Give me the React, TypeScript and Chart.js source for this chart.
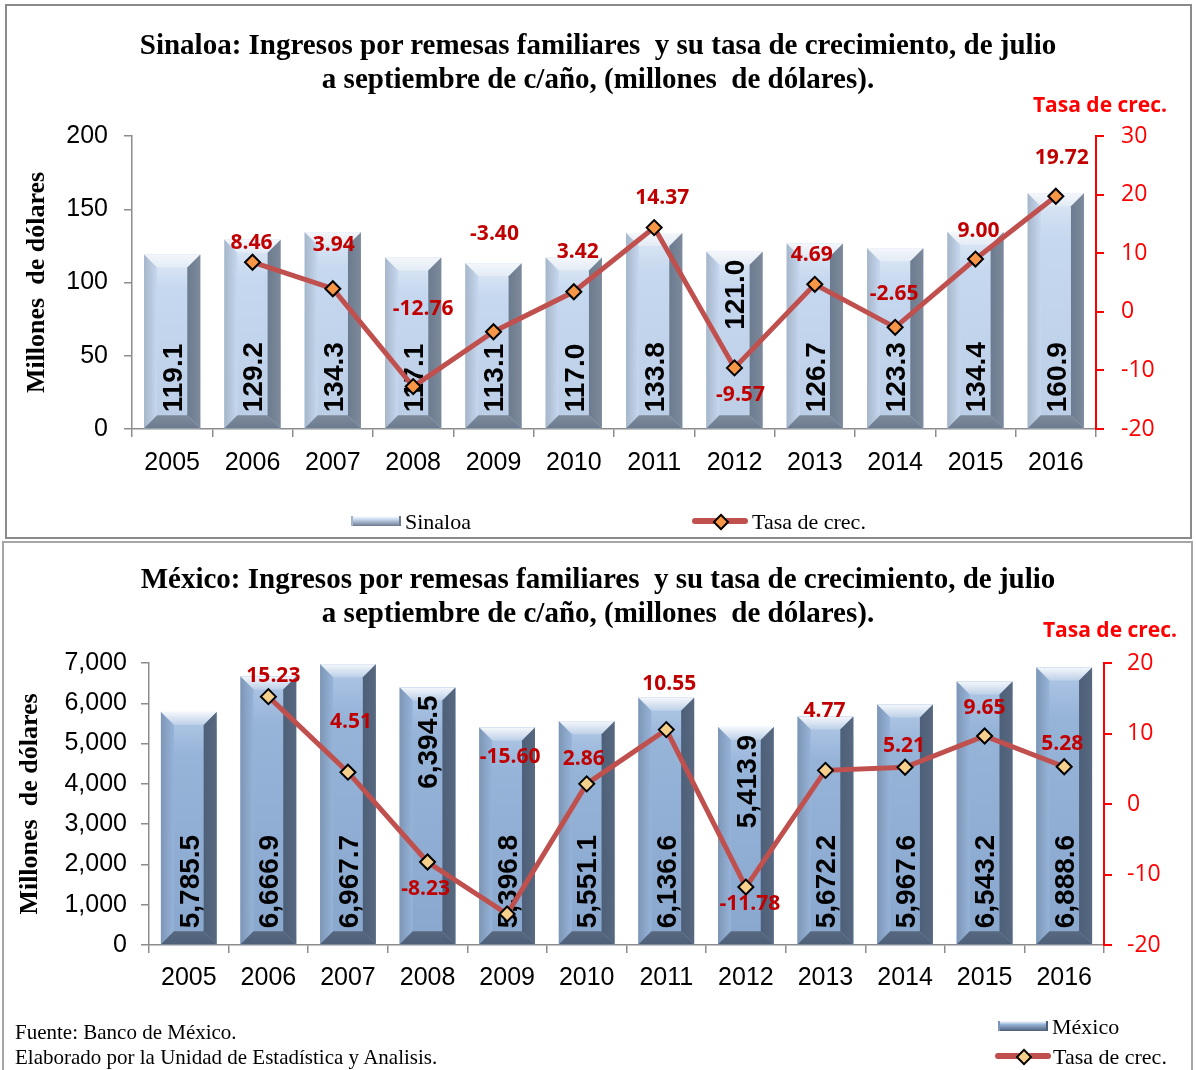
import React, { useEffect, useRef } from 'react';
import { Chart, registerables } from 'chart.js';

Chart.register(...registerables);

// ---------------- data ----------------
const YEARS = ['2005', '2006', '2007', '2008', '2009', '2010', '2011', '2012', '2013', '2014', '2015', '2016'];

const SINALOA_REMESAS = [119.1, 129.2, 134.3, 117.1, 113.1, 117.0, 133.8, 121.0, 126.7, 123.3, 134.4, 160.9];
const SINALOA_TASA = [null, 8.46, 3.94, -12.76, -3.40, 3.42, 14.37, -9.57, 4.69, -2.65, 9.00, 19.72];

const MEXICO_REMESAS = [5785.5, 6666.9, 6967.7, 6394.5, 5396.8, 5551.1, 6136.6, 5413.9, 5672.2, 5967.6, 6543.2, 6888.6];
const MEXICO_TASA = [null, 15.23, 4.51, -8.23, -15.60, 2.86, 10.55, -11.78, 4.77, 5.21, 9.65, 5.28];

const SINALOA_LEFT_TICKS = [0, 50, 100, 150, 200];
const SINALOA_RIGHT_TICKS = [-20, -10, 0, 10, 20, 30];
const MEXICO_LEFT_TICKS = [0, 1000, 2000, 3000, 4000, 5000, 6000, 7000];
const MEXICO_RIGHT_TICKS = [-20, -10, 0, 10, 20];

// bars whose value label sits at the top of the bar
const SINALOA_LABEL_AT_TOP = ['2012'];
const MEXICO_LABEL_AT_TOP = ['2008', '2012'];

// label shifts (pixels) of the growth-rate labels relative to their points
const SINALOA_RATE_SHIFT = [[0, 0], [-1, -19], [1, -44], [10, -78], [1, -98], [4, -40], [8, -30], [6, 27], [-3, -29], [-1, -33], [3, -28], [6, -38]];
const MEXICO_RATE_SHIFT = [[0, 0], [5, -21], [3, -50], [-2, 27], [3, -157], [-3, -25], [3, -46], [4, 17], [-1, -59], [-1, -21], [0, -28], [-2, -23]];

// ---------------- styling ----------------
const SANS = '"Liberation Sans", Arial, sans-serif';
const SERIF = '"Liberation Serif", "Times New Roman", serif';
const CAL = '"Open Sans", "Noto Sans", sans-serif';

const TOP_PALETTE = {
  front: ['#d6e3f3', '#c6d8ef', '#bccfe7'],
  top: '#e3ebf5',
  left: '#a6b6ca',
  right: '#6c7b8f',
  bottom: '#7d8a9b',
};
const BOTTOM_PALETTE = {
  front: ['#aac3e3', '#96b3d8', '#8aa8ce'],
  top: '#bdd0e8',
  left: '#7d96b6',
  right: '#4e6079',
  bottom: '#57687f',
};

function poly(ctx: CanvasRenderingContext2D, pts: number[][], fill: any) {
  ctx.beginPath();
  ctx.moveTo(pts[0][0], pts[0][1]);
  for (let i = 1; i < pts.length; i++) ctx.lineTo(pts[i][0], pts[i][1]);
  ctx.closePath();
  ctx.fillStyle = fill;
  ctx.fill();
}

const bevelBarsPlugin = {
  id: 'bevelBars',
  afterDatasetDraw(chart: any, args: any, opts: any) {
    const meta = args.meta;
    if (meta.type !== 'bar') return;
    const ctx: CanvasRenderingContext2D = chart.ctx;
    const pal = opts.palette;
    const area = chart.chartArea;
    ctx.save();
    ctx.beginPath();
    ctx.rect(area.left, area.top - 2, area.right - area.left, area.bottom - area.top + 2);
    ctx.clip();
    meta.data.forEach((el: any) => {
      const p = el.getProps(['x', 'y', 'base', 'width'], true);
      const L = p.x - p.width / 2;
      const R = p.x + p.width / 2;
      const T = Math.min(p.y, p.base);
      const B = Math.max(p.y, p.base);
      const b = Math.min(opts.bevel, p.width / 4, (B - T) / 2);
      const fg = ctx.createLinearGradient(0, T + b, 0, B - b);
      fg.addColorStop(0, pal.front[0]);
      fg.addColorStop(0.15, pal.front[1]);
      fg.addColorStop(1, pal.front[2]);
      ctx.fillStyle = fg;
      ctx.fillRect(L, T, R - L, B - T);
      const tg = ctx.createLinearGradient(0, T, 0, T + b);
      tg.addColorStop(0, '#f4f7fb');
      tg.addColorStop(1, pal.top);
      poly(ctx, [[L, T], [R, T], [R - b, T + b], [L + b, T + b]], tg);
      const lg = ctx.createLinearGradient(L, 0, L + b, 0);
      lg.addColorStop(0, pal.left);
      lg.addColorStop(1, pal.front[1]);
      poly(ctx, [[L, T], [L + b, T + b], [L + b, B - b], [L, B]], lg);
      const rg = ctx.createLinearGradient(R - b, 0, R, 0);
      rg.addColorStop(0, pal.right);
      rg.addColorStop(1, pal.bottom);
      poly(ctx, [[R, T], [R, B], [R - b, B - b], [R - b, T + b]], rg);
      const bg = ctx.createLinearGradient(0, B - b, 0, B);
      bg.addColorStop(0, pal.bottom);
      bg.addColorStop(1, pal.right);
      poly(ctx, [[L, B], [L + b, B - b], [R - b, B - b], [R, B]], bg);
    });
    ctx.restore();

    // value labels, drawn before the line so markers cover them
    const values = chart.data.datasets[args.index].data;
    const labels = chart.data.labels;
    ctx.save();
    ctx.font = 'bold 28px ' + SANS;
    ctx.fillStyle = '#000';
    ctx.textBaseline = 'middle';
    meta.data.forEach((el: any, i: number) => {
      const p = el.getProps(['x', 'y', 'base'], true);
      const txt = opts.format(values[i]);
      const atTop = opts.atTop.indexOf(labels[i]) >= 0;
      ctx.save();
      if (atTop) {
        ctx.translate(p.x + 2, Math.min(p.y, p.base) + 8);
        ctx.rotate(-Math.PI / 2);
        ctx.textAlign = 'right';
      } else {
        ctx.translate(p.x + 2, Math.max(p.y, p.base) - 16);
        ctx.rotate(-Math.PI / 2);
        ctx.textAlign = 'left';
      }
      ctx.fillText(txt, 0, 0);
      ctx.restore();
    });
    ctx.restore();
  },
};

const rateLabelsPlugin = {
  id: 'rateLabels',
  afterDatasetsDraw(chart: any, _args: any, opts: any) {
    const meta = chart.getDatasetMeta(1);
    const values = chart.data.datasets[1].data;
    const ctx: CanvasRenderingContext2D = chart.ctx;
    ctx.save();
    ctx.font = 'bold 21px ' + CAL;
    ctx.fillStyle = '#c00000';
    ctx.textAlign = 'center';
    ctx.textBaseline = 'middle';
    meta.data.forEach((pt: any, i: number) => {
      const v = values[i];
      if (v === null || v === undefined) return;
      const s = opts.shifts[i] || [0, -20];
      ctx.fillText(Number(v).toFixed(2), pt.x + s[0], pt.y + s[1]);
    });
    ctx.restore();
  },
};

type Cfg = {
  width: number;
  height: number;
  bars: number[];
  rates: (number | null)[];
  barLabel: string;
  leftTicks: number[];
  rightTicks: number[];
  palette: any;
  markerFill: string;
  atTop: string[];
  shifts: number[][];
  barFormat: (v: number) => string;
  leftFormat: (v: number) => string;
  area: { left: number; right: number; top: number; bottom: number };
  leftTickPad: number;
  rightTickPad: number;
  xTickPad: number;
  titlePad: number;
};

function ComboChart({ cfg }: { cfg: Cfg }) {
  const ref = useRef<HTMLCanvasElement | null>(null);
  useEffect(() => {
    if (!ref.current) return;
    const a = cfg.area;
    const xAxisH = 60;
    const chart = new Chart(ref.current, {
      type: 'bar',
      data: {
        labels: YEARS,
        datasets: [
          {
            type: 'bar',
            label: cfg.barLabel,
            data: cfg.bars,
            yAxisID: 'y',
            backgroundColor: cfg.palette.front[1],
            barPercentage: 0.7,
            categoryPercentage: 1,
            order: 2,
          } as any,
          {
            type: 'line',
            label: 'Tasa de crec.',
            data: cfg.rates,
            yAxisID: 'y1',
            borderColor: '#c0504d',
            borderWidth: 5,
            pointStyle: 'rectRot',
            pointRadius: 7.5,
            pointBackgroundColor: cfg.markerFill,
            pointBorderColor: '#000000',
            pointBorderWidth: 2,
            tension: 0,
            spanGaps: false,
            order: 1,
          } as any,
        ],
      },
      options: {
        responsive: false,
        animation: false,
        events: [],
        layout: {
          padding: {
            left: 0,
            right: 0,
            top: a.top,
            bottom: cfg.height - a.bottom - xAxisH,
          },
        },
        plugins: {
          legend: { display: false },
          tooltip: { enabled: false },
          title: { display: false },
          bevelBars: {
            palette: cfg.palette,
            bevel: 13,
            atTop: cfg.atTop,
            format: cfg.barFormat,
          },
          rateLabels: { shifts: cfg.shifts },
        } as any,
        scales: {
          x: {
            offset: true,
            grid: {
              display: true,
              drawOnChartArea: false,
              drawTicks: true,
              tickLength: 8,
              color: '#8c8c8c',
              lineWidth: 1.5,
              offset: true,
            },
            border: { display: true, color: '#8c8c8c', width: 1.5 },
            ticks: {
              color: '#000',
              font: { family: SANS, size: 25 },
              padding: cfg.xTickPad,
              maxRotation: 0,
              autoSkip: false,
            },
            afterFit: (s: any) => {
              s.height = xAxisH;
            },
          },
          y: {
            position: 'left',
            min: cfg.leftTicks[0],
            max: cfg.leftTicks[cfg.leftTicks.length - 1],
            ticks: {
              stepSize: cfg.leftTicks[1] - cfg.leftTicks[0],
              color: '#000',
              font: { family: SANS, size: 25 },
              padding: cfg.leftTickPad,
              callback: (v: any) => cfg.leftFormat(Number(v)),
            },
            grid: {
              drawOnChartArea: false,
              drawTicks: true,
              tickLength: 8,
              color: '#8c8c8c',
              lineWidth: 1.5,
            },
            border: { display: true, color: '#8c8c8c', width: 1.5 },
            title: {
              display: true,
              text: 'Millones  de dólares',
              color: '#000',
              font: { family: SERIF, size: 26, weight: 'bold' },
              padding: { top: cfg.titlePad, bottom: 0 },
            },
            afterFit: (s: any) => {
              s.width = a.left;
            },
          },
          y1: {
            position: 'right',
            min: cfg.rightTicks[0],
            max: cfg.rightTicks[cfg.rightTicks.length - 1],
            ticks: {
              stepSize: cfg.rightTicks[1] - cfg.rightTicks[0],
              color: '#ff0000',
              font: { family: CAL, size: 23 },
              padding: cfg.rightTickPad,
            },
            grid: {
              drawOnChartArea: false,
              drawTicks: true,
              tickLength: 8,
              color: '#ff0000',
              lineWidth: 2,
            },
            border: { display: true, color: '#ff0000', width: 2 },
            afterFit: (s: any) => {
              s.width = cfg.width - a.right;
            },
          },
        } as any,
      },
      plugins: [bevelBarsPlugin as any, rateLabelsPlugin as any],
    });
    return () => chart.destroy();
  }, [cfg]);
  return <canvas ref={ref} width={cfg.width} height={cfg.height} style={{ display: 'block' }} />;
}

const fmt1 = (v: number) => v.toFixed(1);
const fmtComma1 = (v: number) => v.toLocaleString('en-US', { minimumFractionDigits: 1, maximumFractionDigits: 1 });
const fmtInt = (v: number) => String(v);
const fmtCommaInt = (v: number) => v.toLocaleString('en-US');

const TOP_CFG: Cfg = {
  width: 1196,
  height: 538,
  bars: SINALOA_REMESAS,
  rates: SINALOA_TASA,
  barLabel: 'Sinaloa',
  leftTicks: SINALOA_LEFT_TICKS,
  rightTicks: SINALOA_RIGHT_TICKS,
  palette: TOP_PALETTE,
  markerFill: '#f79646',
  atTop: SINALOA_LABEL_AT_TOP,
  shifts: SINALOA_RATE_SHIFT,
  barFormat: fmt1,
  leftFormat: fmtInt,
  area: { left: 132, right: 1096, top: 136, bottom: 429 },
  leftTickPad: 16,
  rightTickPad: 17,
  xTickPad: 11,
  titlePad: 22,
};

const BOTTOM_CFG: Cfg = {
  width: 1196,
  height: 530,
  bars: MEXICO_REMESAS,
  rates: MEXICO_TASA,
  barLabel: 'México',
  leftTicks: MEXICO_LEFT_TICKS,
  rightTicks: MEXICO_RIGHT_TICKS,
  palette: BOTTOM_PALETTE,
  markerFill: '#f5cf8c',
  atTop: MEXICO_LABEL_AT_TOP,
  shifts: MEXICO_RATE_SHIFT,
  barFormat: fmtComma1,
  leftFormat: fmtCommaInt,
  area: { left: 149, right: 1104, top: 123, bottom: 405 },
  leftTickPad: 14,
  rightTickPad: 15,
  xTickPad: 10,
  titlePad: 15,
};

function Txt({ x, y, children, style }: { x: number; y: number; children: any; style?: any }) {
  return (
    <div
      style={{
        position: 'absolute',
        left: x,
        top: y,
        transform: 'translate(0, -50%)',
        whiteSpace: 'pre',
        lineHeight: 1,
        ...style,
      }}
    >
      {children}
    </div>
  );
}

function CenterTxt({ x, y, children, style }: { x: number; y: number; children: any; style?: any }) {
  return (
    <div
      style={{
        position: 'absolute',
        left: x,
        top: y,
        transform: 'translate(-50%, -50%)',
        whiteSpace: 'pre',
        lineHeight: 1,
        ...style,
      }}
    >
      {children}
    </div>
  );
}

function BarIcon({ x, y, pal }: { x: number; y: number; pal: any }) {
  return (
    <div
      style={{
        position: 'absolute',
        left: x,
        top: y - 5,
        width: 50,
        height: 10,
        background: `linear-gradient(to bottom, #ffffff 0%, ${pal.front[1]} 35%, ${pal.right} 100%)`,
        borderLeft: `2px solid ${pal.left}`,
        borderRight: `2px solid ${pal.right}`,
        boxSizing: 'border-box',
      }}
    />
  );
}

function LineIcon({ x, y, fill }: { x: number; y: number; fill: string }) {
  return (
    <div style={{ position: 'absolute', left: x, top: y - 3, width: 56, height: 6 }}>
      <div style={{ position: 'absolute', left: 0, top: 0, width: 56, height: 6, background: '#c0504d', borderRadius: 3 }} />
      <div
        style={{
          position: 'absolute',
          left: 23,
          top: -2,
          width: 8,
          height: 8,
          background: fill,
          border: '2px solid #000',
          transform: 'rotate(45deg)',
        }}
      />
    </div>
  );
}

const titleStyle = { fontFamily: SERIF, fontWeight: 'bold', fontSize: 29, color: '#000' };
const tasaStyle = { fontFamily: CAL, fontWeight: 'bold', fontSize: 21, color: '#ff0000' };
const legendStyle = { fontFamily: SERIF, fontSize: 22, color: '#000' };

export default function App() {
  return (
    <div
      style={{
        position: 'absolute',
        left: 0,
        top: 0,
        width: 1196,
        height: 1070,
        overflow: 'hidden',
        background: '#ffffff',
      }}
    >
      <div
        style={{
          position: 'absolute',
          left: 5,
          top: 4,
          width: 1187,
          height: 535,
          border: '2px solid #8a8a8a',
          boxSizing: 'border-box',
        }}
      />
      <div
        style={{
          position: 'absolute',
          left: 2,
          top: 541,
          width: 1191,
          height: 560,
          border: '2px solid #a6a6a6',
          boxSizing: 'border-box',
        }}
      />

      {/* top chart */}
      <div style={{ position: 'absolute', left: 0, top: 0 }}>
        <ComboChart cfg={TOP_CFG} />
      </div>
      <CenterTxt x={598} y={44} style={titleStyle}>
        Sinaloa: Ingresos por remesas familiares  y su tasa de crecimiento, de julio
      </CenterTxt>
      <CenterTxt x={598} y={78} style={titleStyle}>
        a septiembre de c/año, (millones  de dólares).
      </CenterTxt>
      <CenterTxt x={1100} y={104} style={tasaStyle}>
        Tasa de crec.
      </CenterTxt>
      <BarIcon x={351} y={521} pal={TOP_PALETTE} />
      <Txt x={405} y={522} style={legendStyle}>
        Sinaloa
      </Txt>
      <LineIcon x={692} y={521} fill="#f79646" />
      <Txt x={752} y={522} style={legendStyle}>
        Tasa de crec.
      </Txt>

      {/* bottom chart */}
      <div style={{ position: 'absolute', left: 0, top: 540 }}>
        <ComboChart cfg={BOTTOM_CFG} />
      </div>
      <CenterTxt x={598} y={578} style={titleStyle}>
        México: Ingresos por remesas familiares  y su tasa de crecimiento, de julio
      </CenterTxt>
      <CenterTxt x={598} y={612} style={titleStyle}>
        a septiembre de c/año, (millones  de dólares).
      </CenterTxt>
      <CenterTxt x={1110} y={629} style={tasaStyle}>
        Tasa de crec.
      </CenterTxt>
      <BarIcon x={998} y={1026} pal={BOTTOM_PALETTE} />
      <Txt x={1052} y={1027} style={legendStyle}>
        México
      </Txt>
      <LineIcon x={995} y={1056} fill="#f5cf8c" />
      <Txt x={1053} y={1057} style={legendStyle}>
        Tasa de crec.
      </Txt>
      <Txt x={15} y={1032} style={{ fontFamily: SERIF, fontSize: 21, color: '#000' }}>
        Fuente: Banco de México.
      </Txt>
      <Txt x={15} y={1057} style={{ fontFamily: SERIF, fontSize: 21, color: '#000' }}>
        Elaborado por la Unidad de Estadística y Analisis.
      </Txt>
    </div>
  );
}
